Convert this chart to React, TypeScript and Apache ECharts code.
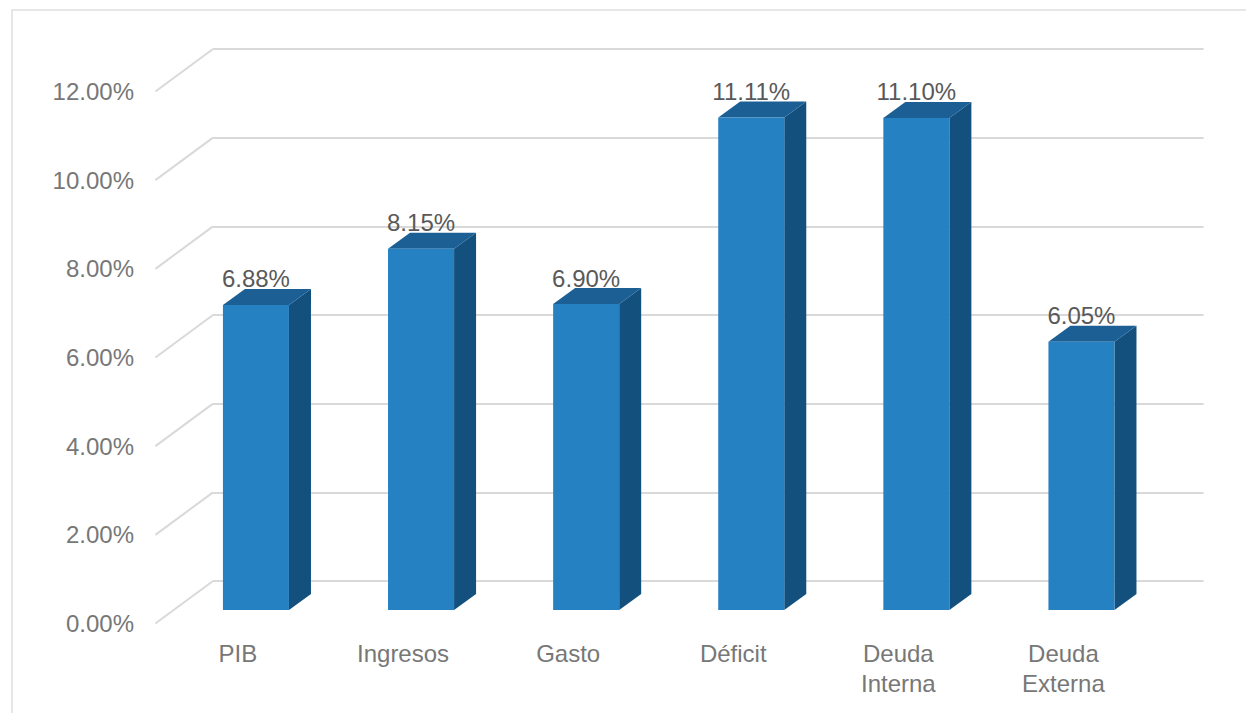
import React, { useEffect, useRef } from "react";
import * as echarts from "echarts";

const categories = ["PIB", "Ingresos", "Gasto", "Déficit", "Deuda\nInterna", "Deuda\nExterna"];
const values = [6.88, 8.15, 6.9, 11.11, 11.1, 6.05];
const yTicks = [0, 2, 4, 6, 8, 10, 12];

const FONT = "'Liberation Sans', Arial, sans-serif";
// depth offsets
const BAR_DX = 22;
const BAR_DY = -16;
const WALL_DX = 57.6;
const WALL_DY = -42.5;

const GRID_W = 990.6;
const GRID_H = 532;

export default function App() {
  const ref = useRef<HTMLDivElement>(null);
  useEffect(() => {
    if (!ref.current) return;
    const chart = echarts.init(ref.current, undefined, { renderer: "svg" });
    const yAxisBase = { type: "value", min: 0, max: 12, interval: 2 };
    chart.setOption({
      animation: false,
      backgroundColor: "#ffffff",
      graphic: [
        {
          type: "rect",
          shape: { x: 12, y: 10, width: 1400, height: 900 },
          style: { fill: "none", stroke: "#dedede", lineWidth: 1.5 },
          silent: true,
        },
      ],
      grid: [
        // bar plane
        { left: 173.4, top: 78, width: GRID_W, height: GRID_H },
        // front plane (labels)
        { left: 155.4, top: 91.5, width: GRID_W, height: GRID_H },
        // back wall
        { left: 155.4 + WALL_DX, top: 91.5 + WALL_DY, width: GRID_W, height: GRID_H },
      ],
      xAxis: [
        { gridIndex: 0, type: "category", data: categories, show: false },
        {
          gridIndex: 1,
          type: "category",
          data: categories,
          axisLine: { show: false },
          axisTick: { show: false },
          splitLine: { show: false },
          axisLabel: {
            margin: 14.5,
            fontSize: 24,
            lineHeight: 30,
            color: "#777777",
            fontFamily: FONT,
            interval: 0,
          },
        },
        { gridIndex: 2, type: "category", data: categories, show: false },
      ],
      yAxis: [
        { ...yAxisBase, gridIndex: 0, show: false },
        {
          ...yAxisBase,
          gridIndex: 1,
          axisLine: { show: false },
          axisTick: { show: false },
          splitLine: { show: false },
          axisLabel: {
            margin: 21.4,
            fontSize: 24,
            color: "#777777",
            fontFamily: FONT,
            formatter: (v: number) => v.toFixed(2) + "%",
          },
        },
        {
          ...yAxisBase,
          gridIndex: 2,
          axisLine: { show: false },
          axisTick: { show: false },
          axisLabel: { show: false },
          splitLine: { show: true, lineStyle: { color: "#d9d9d9", width: 2 } },
        },
      ],
      series: [
        {
          type: "custom",
          xAxisIndex: 1,
          yAxisIndex: 1,
          silent: true,
          data: yTicks.map((t) => [0, t]),
          renderItem: (params: any, api: any) => {
            const y = api.coord([0, api.value(1)])[1];
            const x0 = params.coordSys.x;
            return {
              type: "line",
              shape: { x1: x0, y1: y, x2: x0 + WALL_DX, y2: y + WALL_DY },
              style: { stroke: "#d9d9d9", lineWidth: 2 },
            };
          },
        },
        {
          type: "custom",
          xAxisIndex: 0,
          yAxisIndex: 0,
          silent: true,
          data: values.map((v, i) => [i, v]),
          renderItem: (params: any, api: any) => {
            const i = api.value(0);
            const v = api.value(1);
            const base = api.coord([i, 0]);
            const top = api.coord([i, v]);
            const bw = api.size([1, 0])[0] * 0.4;
            const l = base[0] - bw / 2;
            const r = base[0] + bw / 2;
            const yt = top[1];
            const yb = base[1];
            return {
              type: "group",
              children: [
                {
                  type: "polygon",
                  shape: {
                    points: [
                      [r, yt],
                      [r + BAR_DX, yt + BAR_DY],
                      [r + BAR_DX, yb + BAR_DY],
                      [r, yb],
                    ],
                  },
                  style: { fill: "#14507d" },
                },
                {
                  type: "polygon",
                  shape: {
                    points: [
                      [l, yt],
                      [l + BAR_DX, yt + BAR_DY],
                      [r + BAR_DX, yt + BAR_DY],
                      [r, yt],
                    ],
                  },
                  style: { fill: "#1b5f95" },
                },
                {
                  type: "rect",
                  shape: { x: l, y: yt, width: r - l, height: yb - yt },
                  style: { fill: "#2681c3" },
                },
                {
                  type: "text",
                  style: {
                    x: base[0],
                    y: yt - 26,
                    text: v.toFixed(2) + "%",
                    fill: "#595959",
                    fontSize: 24,
                    fontFamily: FONT,
                    align: "center",
                    verticalAlign: "middle",
                  },
                },
              ],
            };
          },
        },
      ],
    });
    return () => chart.dispose();
  }, []);
  return (
    <div
      ref={ref}
      style={{ position: "absolute", left: 0, top: 0, width: 1246, height: 713 }}
    />
  );
}
